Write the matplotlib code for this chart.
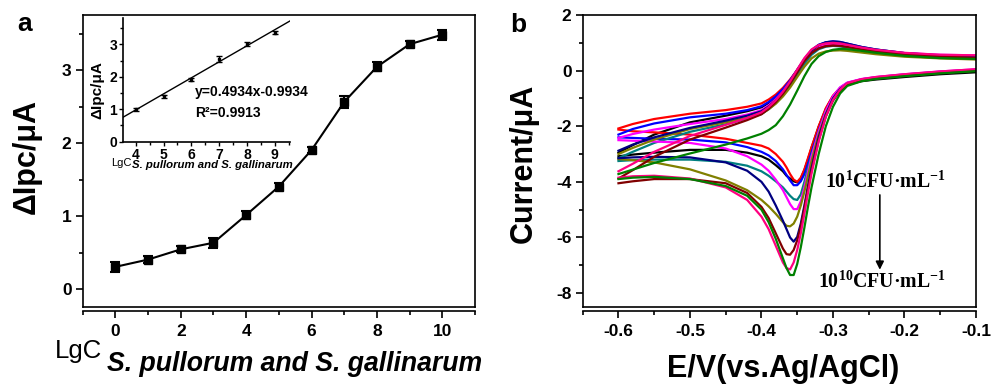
import numpy as np
import matplotlib
matplotlib.use("Agg")
import matplotlib.pyplot as plt

# ---- panel a: peak current change vs lg concentration ----
lgc = [0, 1, 2, 3, 4, 5, 6, 7, 8, 9, 10]
delta_ipc = [0.31, 0.41, 0.55, 0.64, 1.02, 1.41, 1.91, 2.57, 3.05, 3.36, 3.49]
delta_ipc_err = [0.07, 0.05, 0.04, 0.07, 0.06, 0.05, 0.04, 0.08, 0.06, 0.04, 0.07]

# inset: linear range
lin_lgc = [4, 5, 6, 7, 8, 9]
lin_ipc = [1.00, 1.40, 1.91, 2.55, 3.01, 3.36]
lin_err = [0.05, 0.05, 0.04, 0.10, 0.06, 0.05]
fit_slope = 0.4934
fit_intercept = -0.9934
fit_r2 = 0.9913

# ---- panel b: CV curves, 10^1 ... 10^10 CFU/mL ----
e_anodic = [-0.60, -0.58, -0.55, -0.50, -0.45, -0.42, -0.40, -0.39, -0.38, -0.37, -0.36, -0.35,
            -0.34, -0.33, -0.32, -0.31, -0.30, -0.29, -0.28, -0.26, -0.24, -0.20, -0.15, -0.10]
e_cathodic = [-0.10, -0.15, -0.20, -0.24, -0.26, -0.28, -0.29, -0.30, -0.31, -0.32, -0.33, -0.335, -0.34, -0.345,
              -0.35, -0.355, -0.36, -0.365, -0.37, -0.38, -0.39, -0.40, -0.42, -0.45, -0.50, -0.55, -0.58, -0.60]

black_a = [-2.95, -2.68, -2.30, -1.86, -1.62, -1.46, -1.32, -1.16, -0.96, -0.70, -0.37, 0.02, 0.40, 0.72, 0.90, 0.99, 1.01, 0.98, 0.93, 0.82, 0.73, 0.61, 0.52, 0.46]
black_c = [-0.06, -0.13, -0.23, -0.32, -0.38, -0.50, -0.66, -0.92, -1.38, -2.02, -2.78, -3.20, -3.58, -3.88, -4.02, -3.98, -3.88, -3.78, -3.62, -3.40, -3.20, -3.08, -2.95, -2.85, -2.85, -2.95, -3.02, -3.08]
red_a = [-2.08, -1.92, -1.74, -1.55, -1.42, -1.30, -1.18, -1.04, -0.86, -0.62, -0.32, 0.02, 0.38, 0.66, 0.84, 0.92, 0.95, 0.93, 0.89, 0.79, 0.71, 0.61, 0.54, 0.50]
red_c = [0.03, -0.05, -0.15, -0.25, -0.32, -0.45, -0.62, -0.90, -1.35, -2.00, -2.75, -3.15, -3.55, -3.85, -4.00, -3.92, -3.72, -3.48, -3.28, -3.00, -2.80, -2.70, -2.60, -2.45, -2.30, -2.22, -2.18, -2.12]
blue_a = [-2.30, -2.10, -1.90, -1.68, -1.55, -1.42, -1.28, -1.13, -0.93, -0.67, -0.35, 0.03, 0.42, 0.74, 0.93, 1.02, 1.05, 1.03, 0.97, 0.85, 0.76, 0.63, 0.55, 0.50]
blue_c = [0.03, -0.04, -0.14, -0.24, -0.31, -0.44, -0.62, -0.95, -1.45, -2.15, -2.95, -3.35, -3.72, -3.98, -4.12, -4.12, -3.95, -3.75, -3.55, -3.25, -3.05, -2.92, -2.75, -2.58, -2.48, -2.45, -2.42, -2.40]
teal_a = [-3.15, -2.92, -2.60, -2.20, -1.93, -1.73, -1.56, -1.39, -1.17, -0.89, -0.56, -0.16, 0.24, 0.57, 0.77, 0.86, 0.89, 0.87, 0.83, 0.75, 0.68, 0.58, 0.50, 0.46]
teal_c = [0.02, -0.06, -0.16, -0.26, -0.33, -0.47, -0.65, -0.98, -1.50, -2.20, -3.05, -3.50, -4.00, -4.45, -4.65, -4.62, -4.50, -4.35, -4.20, -3.98, -3.78, -3.62, -3.42, -3.28, -3.20, -3.20, -3.22, -3.25]
magenta_a = [-2.42, -2.28, -2.12, -1.92, -1.74, -1.58, -1.42, -1.25, -1.03, -0.76, -0.42, -0.02, 0.38, 0.70, 0.88, 0.96, 0.98, 0.96, 0.91, 0.81, 0.73, 0.63, 0.57, 0.55]
magenta_c = [0.05, -0.03, -0.13, -0.23, -0.30, -0.43, -0.60, -0.92, -1.45, -2.20, -3.10, -3.65, -4.20, -4.70, -4.98, -4.98, -4.80, -4.55, -4.30, -3.92, -3.60, -3.38, -3.08, -2.80, -2.60, -2.55, -2.52, -2.50]
olive_a = [-3.00, -2.78, -2.48, -2.10, -1.86, -1.69, -1.55, -1.39, -1.19, -0.93, -0.61, -0.23, 0.14, 0.44, 0.61, 0.69, 0.72, 0.73, 0.71, 0.65, 0.59, 0.50, 0.44, 0.40]
olive_c = [0.00, -0.08, -0.18, -0.28, -0.35, -0.50, -0.70, -1.02, -1.55, -2.30, -3.25, -3.80, -4.35, -4.85, -5.25, -5.50, -5.60, -5.58, -5.45, -5.15, -4.88, -4.65, -4.30, -3.95, -3.55, -3.30, -3.22, -3.18]
navy_a = [-2.88, -2.66, -2.40, -2.06, -1.80, -1.62, -1.46, -1.29, -1.07, -0.79, -0.45, -0.05, 0.37, 0.71, 0.92, 1.02, 1.05, 1.03, 0.97, 0.85, 0.76, 0.63, 0.54, 0.48]
navy_c = [0.02, -0.06, -0.16, -0.26, -0.33, -0.47, -0.66, -1.00, -1.58, -2.40, -3.50, -4.15, -4.85, -5.50, -5.98, -6.15, -6.00, -5.70, -5.40, -4.85, -4.35, -4.00, -3.60, -3.30, -3.12, -3.10, -3.12, -3.15]
maroon_a = [-3.88, -3.58, -3.10, -2.48, -2.05, -1.78, -1.57, -1.37, -1.13, -0.83, -0.47, -0.06, 0.34, 0.63, 0.80, 0.88, 0.90, 0.89, 0.85, 0.76, 0.69, 0.58, 0.51, 0.46]
maroon_c = [0.00, -0.08, -0.18, -0.28, -0.36, -0.50, -0.72, -1.08, -1.65, -2.50, -3.60, -4.25, -4.95, -5.60, -6.10, -6.45, -6.62, -6.60, -6.40, -5.85, -5.30, -4.90, -4.40, -4.05, -3.90, -3.90, -3.98, -4.05]
pink_a = [-3.62, -3.35, -2.92, -2.35, -1.95, -1.70, -1.50, -1.31, -1.07, -0.76, -0.39, 0.04, 0.45, 0.76, 0.92, 0.98, 1.00, 0.98, 0.93, 0.83, 0.75, 0.64, 0.57, 0.55]
pink_c = [0.05, -0.03, -0.13, -0.23, -0.31, -0.45, -0.68, -1.05, -1.65, -2.55, -3.70, -4.40, -5.15, -5.85, -6.45, -6.90, -7.15, -7.10, -6.90, -6.30, -5.70, -5.25, -4.65, -4.20, -3.88, -3.78, -3.80, -3.85]
green_a = [-3.72, -3.56, -3.32, -2.98, -2.66, -2.44, -2.27, -2.14, -1.96, -1.64, -1.22, -0.72, -0.20, 0.24, 0.52, 0.67, 0.75, 0.78, 0.77, 0.71, 0.64, 0.53, 0.45, 0.42]
green_c = [-0.02, -0.10, -0.20, -0.30, -0.38, -0.55, -0.82, -1.30, -2.00, -3.00, -4.20, -4.90, -5.65, -6.35, -6.95, -7.35, -7.35, -7.10, -6.75, -6.05, -5.45, -5.00, -4.50, -4.15, -3.90, -3.82, -3.85, -3.90]

cv_curves = [
    ("#000000", black_a, black_c),
    ("#FF0000", red_a, red_c),
    ("#0000FF", blue_a, blue_c),
    ("#008080", teal_a, teal_c),
    ("#FF00FF", magenta_a, magenta_c),
    ("#808000", olive_a, olive_c),
    ("#000080", navy_a, navy_c),
    ("#800000", maroon_a, maroon_c),
    ("#FF0080", pink_a, pink_c),
    ("#008000", green_a, green_c),
]

plt.rcParams["font.family"] = ["Liberation Sans", "DejaVu Sans"]
plt.rcParams["font.weight"] = "bold"
plt.rcParams["axes.unicode_minus"] = False
plt.rcParams["axes.linewidth"] = 1.2
# serif bold mathtext for the concentration labels (Times-like)
plt.rcParams["mathtext.fontset"] = "custom"
plt.rcParams["mathtext.rm"] = "Liberation Serif:bold"
plt.rcParams["mathtext.bf"] = "Liberation Serif:bold"
plt.rcParams["mathtext.it"] = "Liberation Serif:bold:italic"

W, H = 993, 388
fig = plt.figure(figsize=(W / 100, H / 100), dpi=100)


def px(x, y):
    # pixel position (from top-left) -> figure fraction
    return x / W, 1 - y / H


def bold_ticks(axis_obj):
    for lbl in axis_obj.get_ticklabels():
        lbl.set_fontweight("bold")


def style_main(ax, xmaj, xmin, ymaj, ymin):
    ax.tick_params(axis="x", which="both", bottom=False, labelbottom=False)
    ax.tick_params(axis="y", which="major", direction="out", length=5, width=1.2, labelsize=12.5, pad=3)
    ax.tick_params(axis="y", which="minor", direction="out", length=3, width=1.2)
    ax.set_yticks(ymaj)
    ax.set_yticks(ymin, minor=True)
    sec = ax.secondary_xaxis(-0.014)
    sec.set_xticks(xmaj)
    sec.set_xticks(xmin, minor=True)
    sec.tick_params(which="major", direction="out", length=5, width=1.2, labelsize=12.5, pad=4)
    sec.tick_params(which="minor", direction="out", length=3, width=1.2)
    sec.spines["bottom"].set_linewidth(1.2)
    return sec


# ---------------- panel a ----------------
ax_a = fig.add_axes([82.7 / W, 1 - 307 / H, 392.3 / W, 292 / H])
ax_a.errorbar(lgc, delta_ipc, yerr=delta_ipc_err, color="k", marker="s", ms=6,
              lw=1.5, elinewidth=1.5, capsize=3.5, capthick=1.5)
ax_a.set_xlim(-1, 11)
ax_a.set_ylim(-0.24, 3.76)
sec_a = style_main(ax_a, range(0, 11, 2), range(-1, 12, 2),
                   [0, 1, 2, 3], [0.5, 1.5, 2.5, 3.5])

fig.text(*px(27, 157), "ΔIpc/μA", rotation=90, ha="center", va="center", fontsize=22)
fig.text(*px(55, 358), "LgC", ha="left", va="baseline", fontsize=18.5, weight="normal")
fig.text(*px(107, 371), "S. pullorum and S. gallinarum", ha="left", va="baseline",
         fontsize=19.2, style="italic", weight="bold")
fig.text(*px(17, 31), "a", ha="left", va="baseline", fontsize=19)

# inset
ax_in = fig.add_axes([123.3 / W, 1 - 141.7 / H, 166.7 / W, 123.4 / H])
ax_in.patch.set_alpha(0)
for side in ("top", "right"):
    ax_in.spines[side].set_visible(False)
ax_in.set_xlim(3.55, 9.55)
ax_in.set_ylim(0, 3.8)
fit_x = np.array(ax_in.get_xlim())
ax_in.plot(fit_x, fit_slope * fit_x + fit_intercept, color="k", lw=1)
ax_in.errorbar(lin_lgc, lin_ipc, yerr=lin_err, fmt="s", ms=2, color="k",
               elinewidth=1, capsize=2, capthick=1)
ax_in.set_xticks(lin_lgc)
ax_in.set_xticks([4.5, 5.5, 6.5, 7.5, 8.5, 9.5], minor=True)
ax_in.set_yticks([0, 1, 2, 3])
ax_in.set_yticks([0.5, 1.5, 2.5, 3.5], minor=True)
ax_in.tick_params(which="major", direction="out", length=3, width=1, labelsize=10, pad=1.5)
ax_in.tick_params(which="minor", direction="out", length=2, width=1)
ax_in.text(0.43, 0.40, "y=%.4fx%.4f" % (fit_slope, fit_intercept), transform=ax_in.transAxes,
           fontsize=10, va="center", ha="left")
ax_in.text(0.43, 0.235, "R²=%.4f" % fit_r2, transform=ax_in.transAxes,
           fontsize=10, va="center", ha="left")
fig.text(*px(97, 90), "ΔIpc/μA", rotation=90, ha="center", va="center", fontsize=11)
fig.text(*px(111.5, 166), "LgC", ha="left", va="baseline", fontsize=8, weight="normal")
fig.text(*px(132.5, 168.5), "S. pullorum and S. gallinarum", ha="left", va="baseline",
         fontsize=8.2, style="italic", weight="bold")

# ---------------- panel b ----------------
ax_b = fig.add_axes([582.7 / W, 1 - 307 / H, 393.3 / W, 292 / H])
for color, i_an, i_cat in cv_curves:
    ax_b.plot(e_anodic, i_an, color=color, lw=1.6, solid_joinstyle="round")
    ax_b.plot(e_cathodic, i_cat, color=color, lw=1.6, solid_joinstyle="round")
ax_b.set_xlim(-0.65, -0.1)
ax_b.set_ylim(-8.5, 2)
sec_b = style_main(ax_b, [-0.6, -0.5, -0.4, -0.3, -0.2, -0.1],
                   [-0.65, -0.55, -0.45, -0.35, -0.25, -0.15],
                   [-8, -6, -4, -2, 0, 2], [-7, -5, -3, -1, 1])
sec_b.xaxis.set_major_formatter(matplotlib.ticker.FormatStrFormatter("%.1f"))

ax_b.text(-0.3115, -4.0, "$\\mathbf{10^{1}CFU}$\u00b7$\\mathbf{mL^{-1}}$",
          family="Liberation Serif", fontsize=14.3, ha="left", va="center")
ax_b.text(-0.3213, -7.6, "$\\mathbf{10^{10}CFU}$\u00b7$\\mathbf{mL^{-1}}$",
          family="Liberation Serif", fontsize=14.3, ha="left", va="center")
ax_b.annotate("", xy=(-0.2345, -7.16), xytext=(-0.2345, -4.47),
              arrowprops=dict(arrowstyle="-|>", color="k", lw=1.2, mutation_scale=12,
                              shrinkA=0, shrinkB=0))

fig.text(*px(524, 163), "Current/μA", rotation=90, ha="center", va="center", fontsize=22)
fig.text(*px(783.5, 369), "E/V(vs.Ag/AgCl)", ha="center", va="center", fontsize=22)
fig.text(*px(510, 32), "b", ha="left", va="baseline", fontsize=19)

for a in (ax_a, ax_b, ax_in):
    bold_ticks(a.yaxis)
    bold_ticks(a.xaxis)
for s in (sec_a, sec_b):
    bold_ticks(s.xaxis)

fig.savefig("out.png", dpi=100)
